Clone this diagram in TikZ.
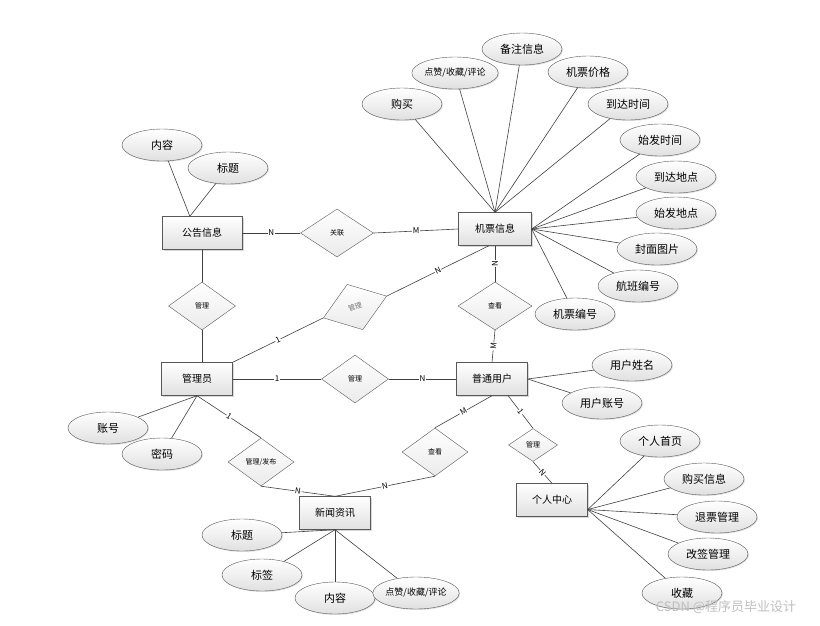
\documentclass[tikz,border=0pt]{standalone}
\usepackage{fontspec}
\setmainfont{Noto Sans CJK SC}
\usetikzlibrary{shapes.geometric,shadows}

\begin{document}
\begin{tikzpicture}[x=1pt,y=-1pt,
  entity/.style={rectangle,draw=black!65,top color=white,bottom color=black!12,minimum width=71pt,minimum height=33pt,inner sep=0pt,font=\fontsize{10}{12}\selectfont,drop shadow={shadow xshift=1.5pt,shadow yshift=-1.5pt,opacity=.3}},
  attr/.style={ellipse,draw=black!65,top color=white,bottom color=black!12,minimum width=80pt,minimum height=32pt,inner sep=0pt,font=\fontsize{11}{13}\selectfont,drop shadow={shadow xshift=1pt,shadow yshift=-1pt,opacity=.25}},
  rel/.style={diamond,draw=black!65,top color=white,bottom color=black!8,minimum width=67pt,minimum height=48pt,inner sep=0pt,font=\fontsize{7}{8}\selectfont},
  link/.style={draw=black!75,line width=0.6pt},
  card/.style={fill=white,inner sep=0.6pt,font=\fontsize{8}{9}\selectfont}
]
  \useasboundingbox (0,0) rectangle (820,625);

  % entities
  \node[entity,minimum width=80pt] (GG) at (202,233) {公告信息};
  \node[entity,minimum width=73pt] (JP) at (495,229) {机票信息};
  \node[entity] (GLY) at (197,379) {管理员};
  \node[entity] (PT) at (492,379) {普通用户};
  \node[entity] (XW) at (335,513) {新闻资讯};
  \node[entity] (GR) at (552,500) {个人中心};

  % relations
  \node[rel,minimum width=73pt] (GLa) at (337,233) {关联};
  \node[rel] (GLb) at (202,306) {管理};
  \node[rel,rotate=19,text=black!55] (GLc) at (355,307) {管理};
  \node[rel,minimum width=74pt] (CKa) at (495,306) {查看};
  \node[rel] (GLd) at (355,379) {管理};
  \node[rel,minimum width=66pt] (FB) at (261,462) {管理/发布};
  \node[rel,minimum width=66pt] (CKb) at (435,452) {查看};
  \node[rel,minimum width=49pt,minimum height=33pt] (GLe) at (533,445) {管理};

  \draw[link] (GG.east) -- node[card]{N} (GLa.west);
  \draw[link] (GLa.east) -- node[card]{M} (JP.west);
  \draw[link] (GG.south) -- (GLb.north);
  \draw[link] (GLb.south) -- (GLY.north -| GLb.south);
  \draw[link] (GLY.north east) -- node[card,sloped]{1} (GLc.west);
  \draw[link] (GLc.east) -- node[card,sloped]{N} (JP.250);
  \draw[link] (CKa.north) -- node[card,sloped]{N} (JP.south);
  \draw[link] (PT.north) -- node[card,sloped]{M} (CKa.south);
  \draw[link] (GLY.east) -- node[card]{1} (GLd.west);
  \draw[link] (GLd.east) -- node[card]{N} (PT.west);
  \draw[link] (GLY.south) -- node[card,sloped]{1} (FB.north);
  \draw[link] (FB.south) -- node[card,sloped]{N} (XW.north);
  \draw[link] (PT.south) -- node[card,sloped]{M} (CKb.north);
  \draw[link] (CKb.south) -- node[card,sloped]{N} (XW.north);
  \draw[link] (PT.-46) -- node[card,sloped]{1} (GLe.north);
  \draw[link] (GLe.south) -- node[card,sloped]{N} (GR.north);

  % 公告信息
  \node[attr] (GGnr) at (162,145) {内容};
  \node[attr] (GGbt) at (228,168) {标题};
  \draw[link] (GGnr) -- (GG.126);
  \draw[link] (GGbt) -- (GG.126);

  % 机票信息
  \node[attr] (JPgm) at (402,104) {购买};
  \node[attr,minimum width=82pt,font=\fontsize{9}{11}\selectfont] (JPdz) at (455,73) {点赞/收藏/评论};
  \node[attr] (JPbz) at (522,49) {备注信息};
  \node[attr] (JPjg) at (588,72) {机票价格};
  \node[attr] (JPds) at (628,104) {到达时间};
  \node[attr] (JPss) at (660,140) {始发时间};
  \node[attr] (JPdd) at (676,177) {到达地点};
  \node[attr] (JPsd) at (676,213) {始发地点};
  \node[attr] (JPfm) at (657,249) {封面图片};
  \node[attr] (JPhb) at (638,286) {航班编号};
  \node[attr] (JPbh) at (575,314) {机票编号};
  \draw[link] (JPgm) -- (JP.north);
  \draw[link] (JPdz) -- (JP.north);
  \draw[link] (JPbz) -- (JP.north);
  \draw[link] (JPjg) -- (JP.north);
  \draw[link] (JPds) -- (JP.north);
  \draw[link] (JPss) -- (JP.east);
  \draw[link] (JPdd) -- (JP.east);
  \draw[link] (JPsd) -- (JP.east);
  \draw[link] (JPfm) -- (JP.east);
  \draw[link] (JPhb) -- (JP.east);
  \draw[link] (JPbh) -- (JP.east);

  % 普通用户
  \node[attr] (PTxm) at (632,365) {用户姓名};
  \node[attr] (PTzh) at (602,403) {用户账号};
  \draw[link] (PTxm) -- (PT.east);
  \draw[link] (PTzh) -- (PT.east);

  % 管理员
  \node[attr] (GLYzh) at (108,428) {账号};
  \node[attr] (GLYmm) at (162,454) {密码};
  \draw[link] (GLYzh) -- (GLY.south);
  \draw[link] (GLYmm) -- (GLY.south);

  % 新闻资讯
  \node[attr] (XWbt) at (242,535) {标题};
  \node[attr] (XWbq) at (262,575) {标签};
  \node[attr] (XWnr) at (335,598) {内容};
  \node[attr,minimum width=82pt,font=\fontsize{9}{11}\selectfont] (XWdz) at (416,593) {点赞/收藏/评论};
  \draw[link] (XWbt) -- (XW.south);
  \draw[link] (XWbq) -- (XW.south);
  \draw[link] (XWnr) -- (XW.south);
  \draw[link] (XWdz) -- (XW.south);

  % 个人中心
  \node[attr] (GRsy) at (660,441) {个人首页};
  \node[attr] (GRgm) at (704,479) {购买信息};
  \node[attr] (GRtp) at (717,517) {退票管理};
  \node[attr] (GRgq) at (708,554) {改签管理};
  \node[attr] (GRsc) at (682,593) {收藏};
  \draw[link] (GRsy) -- (GR.345);
  \draw[link] (GRgm) -- (GR.345);
  \draw[link] (GRtp) -- (GR.345);
  \draw[link] (GRgq) -- (GR.345);
  \draw[link] (GRsc) -- (GR.345);

  \node[text=black!25,font=\fontsize{13}{15}\selectfont] (WM) at (726,607) {CSDN @程序员毕业设计};
\end{tikzpicture}
\end{document}
